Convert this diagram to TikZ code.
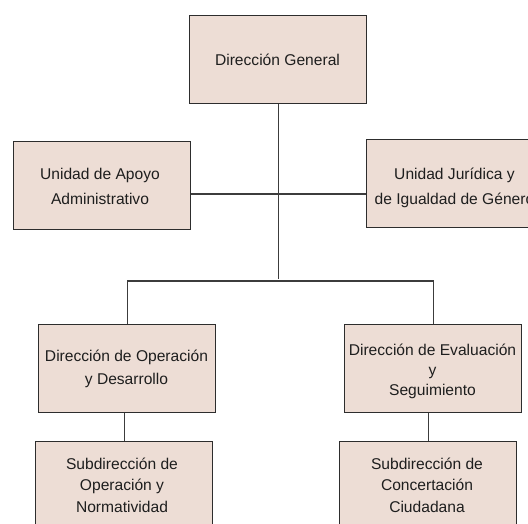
\documentclass[tikz,border=0pt]{standalone}
\usepackage{fontspec}
\setmainfont{Liberation Sans}
\definecolor{boxfill}{RGB}{237,221,213}
\definecolor{edgec}{RGB}{45,45,45}
\definecolor{wirec}{RGB}{60,60,60}
\definecolor{txtc}{RGB}{30,30,30}
\begin{document}
\begin{tikzpicture}[x=1pt,y=-1pt,
  orgbox/.style={draw=edgec, fill=boxfill, line width=1.1pt, inner sep=0pt,
    minimum width=177pt, minimum height=88pt, anchor=north west},
  txt/.style={anchor=base, inner sep=0pt, text=txtc, font=\fontsize{15.6}{18}\selectfont},
  wire/.style={draw=wirec, line width=1.1pt}]
\useasboundingbox (0,0) rectangle (528,523);
\clip (0,0) rectangle (528,523);
% boxes
\node[orgbox] (top) at (189,15) {};
\node[orgbox] (left) at (13,141) {};
\node[orgbox] (right) at (366,139) {};
\node[orgbox] (midL) at (38,324) {};
\node[orgbox] (midR) at (344,324) {};
\node[orgbox] (botL) at (35,441) {};
\node[orgbox] (botR) at (339,441) {};
% helper coordinates
\coordinate (hub) at (278,281);
\coordinate (hl) at (278,194);
% connectors
\draw[wire] (top.south) -- ([yshift=2pt]top.south |- hub);
\draw[wire] (left.east |- hl) -- (right.west |- hl);
\draw[wire] (midL.north) -- (midL.north |- hub) -- (midR.north |- hub) -- (midR.north);
\draw[wire] (botL.north) -- (botL.north |- midL.south);
\draw[wire] (botR.north) -- (botR.north |- midR.south);
% texts
\node[txt] (t-top) at (277.5,65) {Dirección General};
\node[txt] (t-l1) at (100,179) {Unidad de Apoyo};
\node[txt] (t-l2) at (100,204) {Administrativo};
\node[txt] (t-r1) at (454.5,179) {Unidad Jurídica y};
\node[txt] (t-r2) at (454.5,204) {de Igualdad de Género};
\node[txt] (t-ml1) at (126.5,361) {Dirección de Operación};
\node[txt] (t-ml2) at (126.5,384) {y Desarrollo};
\node[txt] (t-mr1) at (432.5,355) {Dirección de Evaluación};
\node[txt] (t-mr2) at (432.5,375) {y};
\node[txt] (t-mr3) at (432.5,395) {Seguimiento};
\node[txt] (t-bl1) at (122,469) {Subdirección de};
\node[txt] (t-bl2) at (122,490) {Operación y};
\node[txt] (t-bl3) at (122,512) {Normatividad};
\node[txt] (t-br1) at (427,469) {Subdirección de};
\node[txt] (t-br2) at (427,490) {Concertación};
\node[txt] (t-br3) at (427,512) {Ciudadana};
\end{tikzpicture}
\end{document}
